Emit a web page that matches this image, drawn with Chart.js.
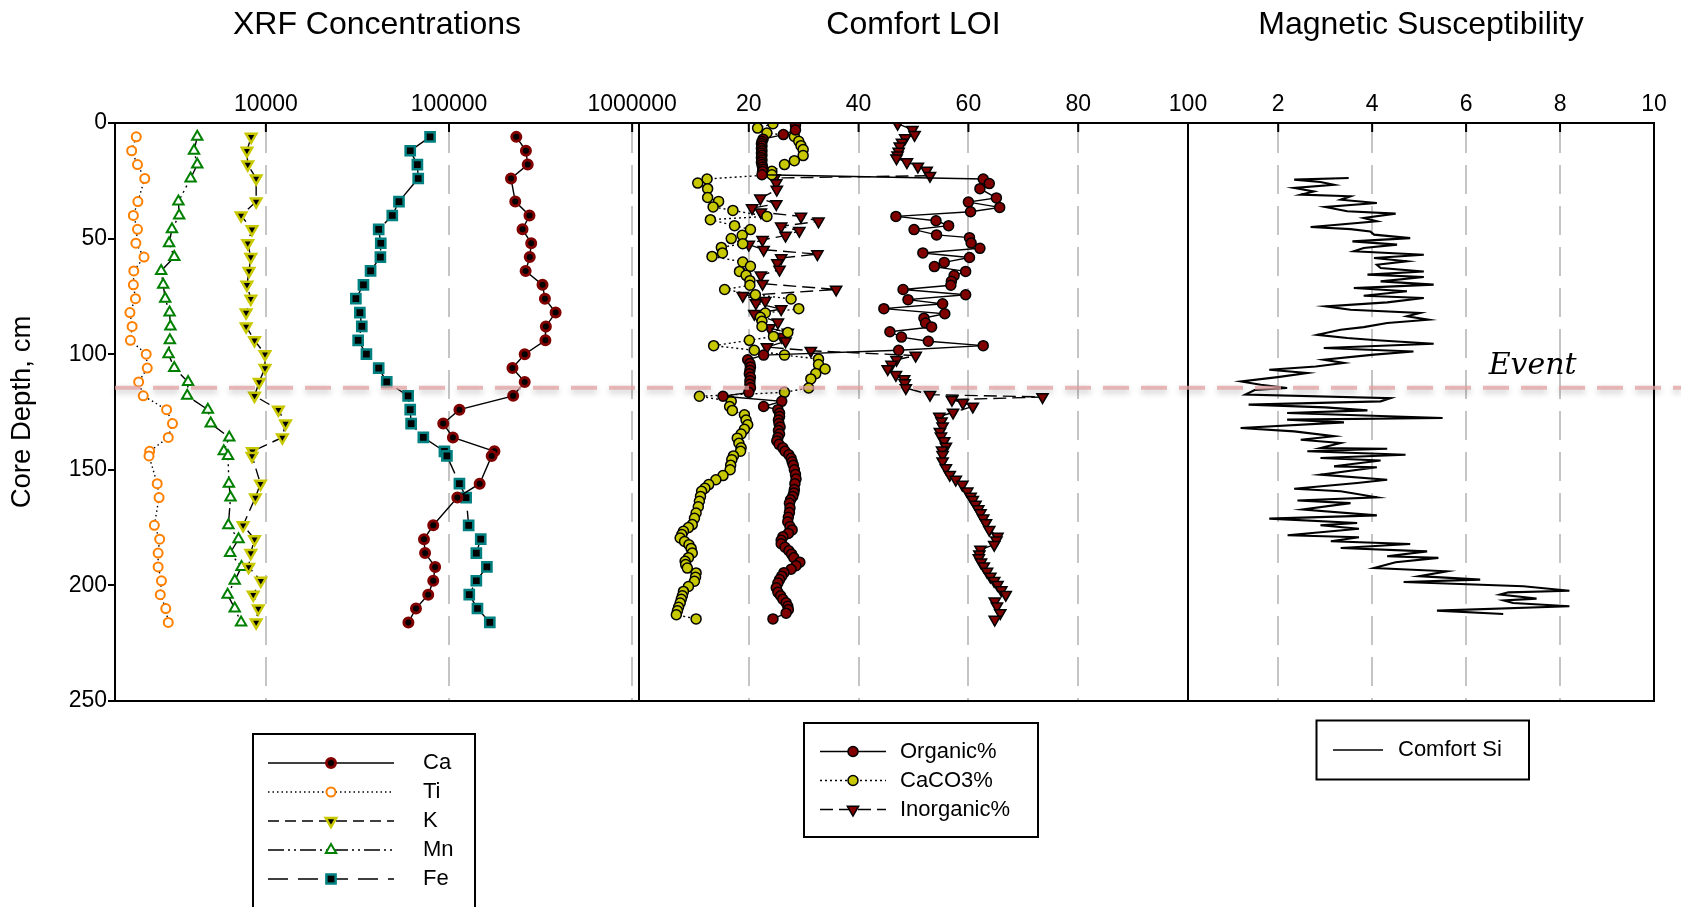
<!DOCTYPE html>
<html>
<head>
<meta charset="utf-8">
<script src="https://cdn.jsdelivr.net/npm/chart.js@4.4.1/dist/chart.umd.min.js"></script>
<style>
html,body{margin:0;padding:0;background:#fff;overflow:hidden}
#wrap{position:relative;width:1681px;height:907px}
canvas{position:absolute;left:0;top:0}
</style>
</head>
<body>
<div id="wrap">
<canvas id="xrf" width="1681" height="907"></canvas>
<canvas id="loi" width="1681" height="907"></canvas>
<canvas id="mag" width="1681" height="907"></canvas>
</div>
<script>
// ---- XRF concentrations (sample depths in cm) ----
var xrfDepth = [6,12,18,24,34,40,46,52,58,64,70,76,82,88,94,100,106,112,118,124,130,136,142,144,156,162,174,180,186,192,198,204,210,216];
var ca = [233000,263000,269000,218000,230000,275000,252000,281000,276000,262000,324000,334000,382000,338000,336000,259000,222000,259000,224000,114000,93000,105000,177000,171000,147000,111000,82000,73000,74000,84000,82000,77000,66000,60000];
var ti = [1960,1850,1990,2180,2000,1890,1990,1950,2160,1900,1890,1940,1810,1860,1820,2220,2250,2020,2140,2870,3090,2930,2320,2300,2550,2610,2460,2630,2580,2580,2690,2650,2840,2930];
var k = [8310,7880,7960,8850,8850,7320,8400,7960,8270,8090,7880,8270,7800,7800,8670,9890,9890,9190,8670,11700,12800,12300,8440,8400,9340,8760,7510,8670,8270,8050,9380,8530,9090,8850];
var mn = [4220,4050,4220,3880,3330,3360,3070,2960,3160,2680,2750,2820,2980,3010,2990,2940,3160,3760,3720,4820,5000,6310,5890,6210,6280,6410,6240,7090,6380,7360,6760,6180,6760,7320];
var fe = [78800,61400,67200,67900,53300,49000,41300,42400,42200,37300,34100,31000,32600,33400,31900,35400,41300,45700,59800,61400,62100,72400,94400,97400,114000,124000,128000,149000,141000,161000,141000,129000,143000,167000];
var xrfTicks = [10000,100000,1000000];

// ---- Comfort LOI ----
var orgDepth = [1,3,5,7,8,9,10,11,12,13,14,15,16,17,18,19,20,21,22.4,24.2,26.2,28.4,32.4,34.2,36.5,38.4,40.4,42.3,44.4,46.1,48.4,49.6,51.9,54.2,56.2,58.2,60.3,62.1,64.2,66,68.5,70.2,72,74.3,76.4,78.2,80.3,82.5,84.4,86.5,88.2,90.3,92.6,94.4,96.3,98.3,100.4,102.4,104,105.5,107,108.5,110,111.5,113,114.5,116.5,118.2,120.4,122.6,124,125.5,127,128.5,130,131.5,133,134.5,136,137.5,139,140.5,142,143.5,145,146.5,148,150,152,154,156,158.5,160,161.5,163,164.5,166.5,168.5,170.5,172.5,174.5,176,177.5,179,180.5,182,183.5,185,186.5,188,190,191.5,193,194.5,196,197.5,199,201,203,204.5,206,207.5,209,210.5,212,214.5];
var orgPct = [28.5,28.5,26.3,22.6,22.4,22.3,22.4,22.3,22.4,22.3,22.4,22.3,22.4,22.3,22.4,22.5,22.6,22.5,22.4,62.7,63.8,62.1,65.1,60.0,65.7,60.4,46.8,54.1,56.4,50.1,54.2,60.2,60.5,62.1,51.7,60.2,55.6,53.8,59.5,57.4,56.9,56.8,48.1,59.5,49.0,55.3,44.6,55.7,51.9,52.2,53.3,45.7,47.8,52.7,62.7,47.3,22.7,19.8,20.2,20.3,20.2,20.1,20.3,20.2,20.2,20.3,20.0,15.3,26.0,22.7,25.3,25.6,25.6,25.4,25.5,25.7,25.4,25.6,25.3,25.1,25.5,26.2,26.6,27.3,27.7,27.9,28.1,28.3,28.5,28.6,28.4,28.3,28.2,28.0,27.6,27.4,27.5,27.4,27.2,27.1,27.5,27.9,27.2,26.2,25.9,25.9,26.6,27.3,27.8,28.2,29.3,28.6,27.7,26.4,26.0,25.6,25.3,25.0,25.3,25.8,26.2,26.8,27.1,27.2,26.8,24.4];
var carbDepth = [0.3,2.2,4.3,5.8,7.9,9.8,11.5,14.1,16.3,18,20.9,22.4,24.2,26,28.4,32.2,33.9,36.3,37.8,40.4,41.8,44.4,46.1,48.6,50,52.2,53.8,56.2,57.7,60.1,62,64.2,65.9,68.2,70.2,72,74.3,76.1,80.3,82.2,84,85.8,88,90.6,92.3,94,96.3,98.3,100.4,102.1,104.5,106.4,108.4,110.7,114.6,116.5,118.2,120.4,122.6,124.3,126.2,128.5,130.5,132.5,134.5,136.3,138.5,140.5,142,144,145.6,148,150,152.5,154.3,156.4,158,159.3,161.5,163.6,166,168.7,171,173.7,175,176.6,178,179.5,181,182.4,184,186,188,189.6,191,192.5,194.6,196.5,198.2,200.5,202.6,204.5,206,207.6,209.5,211,212.7,214.5];
var carbPct = [24.4,21.6,23.3,28.3,29.1,29.5,29.9,29.9,28.3,26.5,24.2,24.2,12.4,10.7,12.5,12.5,14.5,13.5,17.1,23.3,13.0,17.4,20.3,18.8,16.8,18.9,15.0,15.2,13.3,18.9,20.3,18.3,19.5,20.2,20.2,15.6,21.2,27.7,29.1,23.0,22.1,22.4,22.4,27.1,24.5,20.1,13.6,21.0,26.5,32.7,32.7,33.9,32.2,31.3,30.9,26.5,11.0,16.8,16.5,17.0,19.2,19.5,19.8,19.2,18.6,17.9,18.2,18.6,18.5,17.2,16.9,16.7,16.6,15.3,14.0,12.7,12.0,11.4,11.2,11.0,10.8,10.4,10.1,9.7,9.0,8.1,7.8,7.5,8.3,9.1,9.5,9.7,9.0,8.4,8.5,8.8,10.4,10.3,10.1,9.0,8.1,7.9,7.7,7.5,7.2,7.0,6.8,10.4];
var inorgDepth = [0.3,2.9,5.1,6.5,8.4,10.1,12.3,14,15.2,16.9,18.8,20.5,22.8,23.8,26,28.8,32.6,35,36.8,38.6,40.4,42.5,44.7,46.6,48.7,50.5,52.6,54.8,56.7,58.4,60.6,63.4,65.9,69.5,72,74.7,76.9,77.9,80.5,82.5,86.2,88.7,90.6,92.5,94.4,96.9,98.5,100.6,102.4,104.5,106.4,108.9,110.7,112.5,114.6,117.5,118.5,119.7,121,122.6,125.2,126.9,129,131.2,133.5,135.5,137.5,139.9,141.5,143.5,146.3,149.2,152.1,154.2,156.4,159.3,161.5,163,165,167,168.7,171,173,175.9,178.8,180.5,182.4,184.5,186.5,188.1,190,191.7,194,196.1,198,199.7,202,204,206.9,209,211.9,214.8];
var inorgPct = [47.1,49.8,50.2,48.5,47.9,47.5,47.3,47.1,46.9,48.8,50.8,52.4,53.0,24.7,25.0,25.1,22.1,25.0,20.6,22.2,29.5,32.7,25.9,29.2,26.7,22.5,20.0,22.7,32.5,25.9,25.2,25.6,22.2,22.5,35.9,18.9,23.0,21.3,25.9,21.0,25.3,23.8,27.1,26.0,26.7,23.3,31.3,50.4,46.9,46.0,45.3,46.8,48.3,48.4,48.6,53.0,73.5,57.0,59.0,60.8,57.2,54.7,55.1,55.3,54.8,55.0,55.6,55.9,55.2,55.3,55.3,55.9,56.6,57.7,58.9,59.8,60.4,60.8,61.3,61.8,62.2,62.7,63.2,63.8,65.3,65.1,64.7,62.2,62.0,61.9,62.3,62.8,63.4,64.0,64.7,65.3,66.0,66.8,64.8,65.2,65.8,64.8];
var loiTicks = [20,40,60,80,100];

// ---- Magnetic susceptibility ----
var magDepth = [23.8,24.5,25.5,26.7,28.1,29.6,31,31.7,33.2,34.6,36.3,38.2,39.2,41.1,42.5,44,45,45.9,46.9,48.3,49.8,51.2,52.6,54.1,55.5,57,58.4,59.8,61.3,62.7,64.2,65.6,66.6,68.5,69.9,71.4,72.8,74.7,75.7,77.6,79.3,80.8,82.2,83.6,85.1,86.5,88.3,89.4,91.6,93,94,95.5,97.3,98.8,100.2,102.4,103.8,105.3,106.7,108.1,109.9,111.8,113.2,114.6,115.5,117.5,119,120.4,121.8,123,124.3,125.4,127.6,128.3,129.5,131.9,133.4,135.5,137,138.4,140.6,140.9,142,143.5,144.9,146,148.5,148.9,152.1,154.3,155.7,158.2,159.3,161.9,163.3,164.4,167.2,169.7,171.1,173,174,175.5,178.3,179.2,180.9,182.1,183.8,185.3,187.4,188.1,190,192.5,193.9,196,197.5,198.5,200.4,202.3,203,204,205.7,206.5,207.6,209,210.9,212.4];
var magSi = [3.5,2.34,2.9,3.19,2.34,2.76,2.48,3.54,3.33,4.1,3.0,3.47,4.5,3.82,4.1,3.26,2.69,3.54,3.96,4.04,4.81,3.58,4.53,3.82,3.61,5.1,4.04,4.74,4.1,4.18,5.1,3.9,5.1,4.18,5.31,3.61,4.74,3.82,5.1,4.32,3.01,3.54,5.02,4.74,5.2,4.32,3.82,3.33,2.83,3.47,4.1,5.31,2.97,4.88,4.04,2.97,3.4,2.8,1.81,2.62,1.99,1.21,1.63,2.19,1.5,1.3,4.39,4.18,1.37,3.0,3.9,2.19,5.5,2.19,3.4,1.2,2.34,3.19,2.48,3.33,2.9,4.32,2.62,4.71,2.9,4.18,3.19,4.1,2.9,4.32,3.68,2.34,3.33,4.1,2.41,3.54,2.52,4.1,1.81,3.68,2.9,3.72,2.2,3.72,3.12,4.81,3.33,5.17,4.32,5.41,4.5,4.04,5.59,5.0,6.3,4.67,7.22,8.2,6.9,6.72,7.5,6.8,7.0,8.2,5.38,6.79];
var magTicks = [2,4,6,8,10];

var depthTicks = [0,50,100,150,200,250];
var eventDepth = 114.5;

var FONT = '"Liberation Sans", Arial, sans-serif';
Chart.defaults.font.family = FONT;
Chart.defaults.color = '#000';

function pts(depth, vals) {
  return depth.map(function(d, i){ return {x: vals[i], y: d}; });
}

// frame, inward tick marks and panel title
var deco = {
  id: 'deco',
  afterDraw: function(chart, args, o) {
    var ctx = chart.ctx, a = chart.chartArea, x = chart.scales.x;
    ctx.save();
    ctx.strokeStyle = '#000';
    ctx.lineWidth = 2;
    x.ticks.forEach(function(t, i){
      var px = x.getPixelForTick(i);
      ctx.beginPath(); ctx.moveTo(px, a.top); ctx.lineTo(px, a.top + 9); ctx.stroke();
    });
    ctx.strokeRect(a.left, a.top, a.right - a.left, a.bottom - a.top);
    ctx.fillStyle = '#000';
    ctx.font = '32px ' + FONT;
    ctx.textAlign = 'center';
    ctx.textBaseline = 'alphabetic';
    ctx.fillText(o.title, (a.left + a.right) / 2, 34);
    ctx.restore();
  }
};

// boxed legend below each panel
var boxLegend = {
  id: 'boxLegend',
  afterDraw: function(chart, args, o) {
    var ctx = chart.ctx;
    ctx.save();
    ctx.lineWidth = 2; ctx.strokeStyle = '#000';
    ctx.strokeRect(o.box[0], o.box[1], o.box[2], o.box[3]);
    ctx.font = '22px ' + FONT;
    ctx.textBaseline = 'middle';
    ctx.textAlign = 'left';
    chart.data.datasets.forEach(function(ds, i){
      var y = o.y0 + i * o.dy;
      ctx.strokeStyle = '#000'; ctx.lineWidth = 1.5;
      ctx.setLineDash(ds.legendDash || ds.borderDash || []);
      ctx.beginPath(); ctx.moveTo(o.x1, y); ctx.lineTo(o.x2, y); ctx.stroke();
      ctx.setLineDash([]);
      if (ds.pointRadius > 0) {
        ctx.fillStyle = ds.pointBackgroundColor;
        ctx.strokeStyle = ds.pointBorderColor;
        ctx.lineWidth = ds.pointBorderWidth;
        Chart.helpers.drawPoint(ctx, {pointStyle: ds.pointStyle, rotation: ds.pointRotation || 0,
          radius: ds.pointRadius, borderWidth: ds.pointBorderWidth}, (o.x1 + o.x2) / 2, y);
      }
      ctx.fillStyle = '#000';
      ctx.fillText(ds.label, o.tx, y);
    });
    ctx.restore();
  }
};

// event line + label
var eventMark = {
  id: 'eventMark',
  afterDraw: function(chart) {
    var ctx = chart.ctx, ys = chart.scales.y, xs = chart.scales.x;
    var y = ys.getPixelForValue(eventDepth);
    ctx.save();
    ctx.shadowColor = 'rgba(0,0,0,0.3)';
    ctx.shadowBlur = 6;
    ctx.shadowOffsetY = 3;
    ctx.strokeStyle = 'rgba(226,160,160,0.75)';
    ctx.lineWidth = 4;
    ctx.setLineDash([26, 12]);
    ctx.beginPath(); ctx.moveTo(115, y); ctx.lineTo(1681, y); ctx.stroke();
    ctx.restore();
    ctx.save();
    ctx.fillStyle = '#000';
    ctx.font = 'italic 30px "DejaVu Serif", "Liberation Serif", serif';
    ctx.textBaseline = 'alphabetic';
    ctx.fillText('Event', xs.getPixelForValue(6.48), ys.getPixelForValue(108.4));
    ctx.restore();
  }
};

function xAxis(extra) {
  var ax = {
    position: 'top',
    afterFit: function(s){ s.height = 50; },
    grid: {drawOnChartArea: true, drawTicks: false, color: '#c4c4c4', lineWidth: 2},
    border: {display: true, color: '#000', width: 2, dash: [29, 12]},
    ticks: {font: {size: 23}, padding: 5, autoSkip: false, maxRotation: 0,
      callback: function(v){ return String(v); }}
  };
  for (var key in extra) ax[key] = extra[key];
  return ax;
}

function yAxis(show) {
  return {
    display: show,
    position: 'left',
    reverse: true, min: 0, max: 250,
    afterFit: function(s){ s.width = show ? 109 : 0; },
    afterBuildTicks: function(s){ s.ticks = depthTicks.map(function(v){ return {value: v}; }); },
    grid: {drawOnChartArea: false, drawTicks: true, tickLength: 7, color: '#000', lineWidth: 2},
    border: {display: true, color: '#000', width: 2},
    ticks: {font: {size: 23}, padding: 1},
    title: {display: true, text: 'Core Depth, cm', font: {size: 27.5}, padding: {top: 0, bottom: 0}}
  };
}

function panel(id, datasets, xOpts, pad, title, legend, extraPlugins) {
  return new Chart(document.getElementById(id), {
    type: 'scatter',
    data: {datasets: datasets},
    options: {
      responsive: false, animation: false, events: [],
      layout: {padding: pad},
      plugins: {legend: {display: false}, tooltip: {enabled: false},
        deco: {title: title}, boxLegend: legend},
      scales: {x: xOpts, y: yAxis(id === 'xrf')}
    },
    plugins: [deco, boxLegend].concat(extraPlugins || [])
  });
}

function series(label, depth, vals, style) {
  var ds = {label: label, data: pts(depth, vals), showLine: true, tension: 0,
    borderColor: '#000', borderWidth: 1.4};
  for (var key in style) ds[key] = style[key];
  return ds;
}

panel('xrf', [
  series('Ca', xrfDepth, ca, {borderDash: [], pointStyle: 'circle', pointRadius: 4.5,
    pointBackgroundColor: '#000', pointBorderColor: '#800000', pointBorderWidth: 3}),
  series('Ti', xrfDepth, ti, {borderDash: [1.5, 3], pointStyle: 'circle', pointRadius: 4.5,
    pointBackgroundColor: '#fff', pointBorderColor: '#ff8000', pointBorderWidth: 2}),
  series('K', xrfDepth, k, {borderDash: [11, 6], pointStyle: 'triangle', pointRotation: 180, pointRadius: 6,
    pointBackgroundColor: '#000', pointBorderColor: '#c8c800', pointBorderWidth: 2.5}),
  series('Mn', xrfDepth, mn, {borderDash: [16, 4, 2, 4, 2, 4], pointStyle: 'triangle', pointRadius: 6,
    pointBackgroundColor: '#fff', pointBorderColor: '#008000', pointBorderWidth: 2}),
  series('Fe', xrfDepth, fe, {borderDash: [20, 10], pointStyle: 'rect', pointRadius: 6.5,
    pointBackgroundColor: '#000', pointBorderColor: '#008080', pointBorderWidth: 2.5})
], xAxis({type: 'logarithmic', min: 1500, max: 1090000,
  afterBuildTicks: function(s){ s.ticks = xrfTicks.map(function(v){ return {value: v}; }); }}),
  {left: 6, right: 1042, top: 73, bottom: 206}, 'XRF Concentrations',
  {box: [253, 734, 222, 200], x1: 268, x2: 394, tx: 423, y0: 763, dy: 29});

panel('loi', [
  series('Organic%', orgDepth, orgPct, {borderDash: [], pointStyle: 'circle', pointRadius: 5,
    pointBackgroundColor: '#800000', pointBorderColor: '#000', pointBorderWidth: 1.5}),
  series('CaCO3%', carbDepth, carbPct, {borderDash: [2, 3], pointStyle: 'circle', pointRadius: 5,
    pointBackgroundColor: '#c8c800', pointBorderColor: '#000', pointBorderWidth: 1.5}),
  series('Inorganic%', inorgDepth, inorgPct, {borderDash: [13, 6], pointStyle: 'triangle', pointRotation: 180,
    pointRadius: 6.5, pointBackgroundColor: '#800000', pointBorderColor: '#000', pointBorderWidth: 1.5})
], xAxis({type: 'linear', min: 0, max: 100,
  afterBuildTicks: function(s){ s.ticks = loiTicks.map(function(v){ return {value: v}; }); }}),
  {left: 639, right: 493, top: 73, bottom: 206}, 'Comfort LOI',
  {box: [804, 723, 234, 114], x1: 820, x2: 886, tx: 900, y0: 751.5, dy: 29});

panel('mag', [
  series('Comfort Si', magDepth, magSi, {borderWidth: 2.1, pointRadius: 0})
], xAxis({type: 'linear', min: 0.08, max: 10,
  afterBuildTicks: function(s){ s.ticks = magTicks.map(function(v){ return {value: v}; }); }}),
  {left: 1188, right: 27, top: 73, bottom: 206}, 'Magnetic Susceptibility',
  {box: [1316.5, 720.5, 212.5, 59], x1: 1333, x2: 1383, tx: 1398, y0: 750, dy: 29},
  [eventMark]);
</script>
</body>
</html>
